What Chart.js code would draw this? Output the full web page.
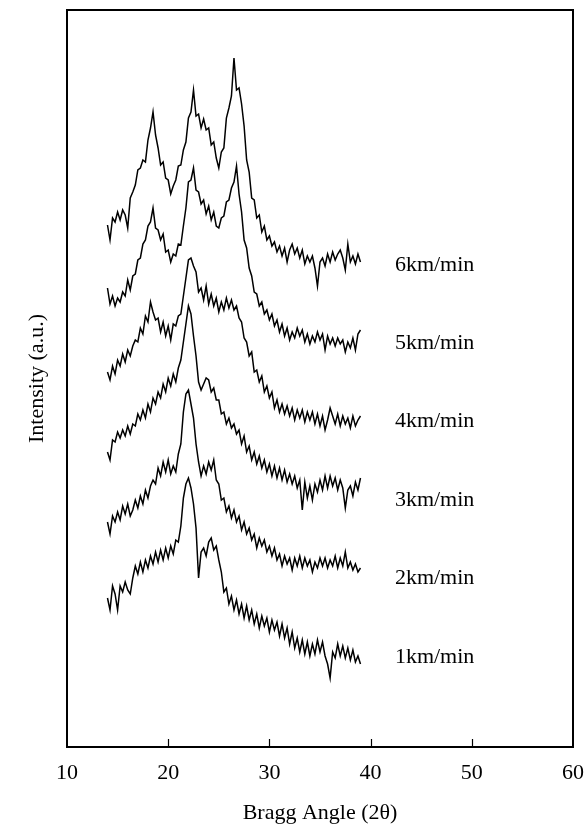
<!DOCTYPE html>
<html>
<head>
<meta charset="utf-8">
<script src="https://cdn.jsdelivr.net/npm/chart.js@4.4.1/dist/chart.umd.min.js"></script>
<style>
  html, body { margin: 0; padding: 0; background: #fff; }
  #wrap { width: 587px; height: 829px; }
</style>
</head>
<body>
<div id="wrap"><canvas id="c" width="587" height="829"></canvas></div>
<script>
// Bragg angle (2θ) sample positions
const angles = [
  14.0,14.25,14.5,14.75,15.0,15.25,15.5,15.75,16.0,16.25,
  16.5,16.75,17.0,17.25,17.5,17.75,18.0,18.25,18.5,18.75,
  19.0,19.25,19.5,19.75,20.0,20.25,20.5,20.75,21.0,21.25,
  21.5,21.75,22.0,22.25,22.5,22.75,23.0,23.25,23.5,23.75,
  24.0,24.25,24.5,24.75,25.0,25.25,25.5,25.75,26.0,26.25,
  26.5,26.75,27.0,27.25,27.5,27.75,28.0,28.25,28.5,28.75,
  29.0,29.25,29.5,29.75,30.0,30.25,30.5,30.75,31.0,31.25,
  31.5,31.75,32.0,32.25,32.5,32.75,33.0,33.25,33.5,33.75,
  34.0,34.25,34.5,34.75,35.0,35.25,35.5,35.75,36.0,36.25,
  36.5,36.75,37.0,37.25,37.5,37.75,38.0,38.25,38.5,38.75,
  39.0
];

// Intensity (a.u., offset stacked) for each spinning speed
const speed6 = [
  522,507,529,525,535,527,537,532,519,549,
  555,562,577,579,587,585,607,619,635,612,
  599,582,585,569,567,553,561,567,581,582,
  597,605,629,635,657,631,633,619,628,617,
  619,602,605,589,579,595,599,629,639,651,
  689,657,659,643,621,587,575,549,547,529,
  532,515,521,507,511,501,505,495,501,491,
  499,485,497,503,493,499,489,497,483,491,
  485,491,479,461,485,489,481,493,485,495,
  487,493,497,489,477,503,485,491,483,493,
  485
];
const speed5 = [
  459,443,451,441,449,445,455,451,467,457,
  471,473,487,489,503,507,521,525,539,519,
  517,507,513,495,497,485,493,491,503,502,
  521,539,565,567,579,557,555,543,547,533,
  541,527,535,521,519,529,531,545,547,559,
  565,581,553,535,507,499,479,471,455,453,
  441,445,433,437,427,433,421,427,415,423,
  411,419,407,415,409,419,411,417,405,413,
  403,411,405,415,407,413,397,411,403,409,
  401,409,403,407,395,405,399,409,397,413,
  417
];
const speed4 = [
  375,367,381,373,387,381,393,385,397,391,
  401,407,405,419,413,431,425,445,435,427,
  429,415,425,411,421,407,423,421,431,433,
  451,469,487,489,481,475,455,459,447,461,
  443,453,441,449,435,445,437,449,439,447,
  437,441,429,425,409,405,391,395,375,377,
  365,371,355,361,349,355,339,347,335,343,
  333,341,331,339,327,337,329,337,325,335,
  327,335,323,333,321,331,317,327,339,331,
  323,333,321,331,323,329,319,331,321,327,
  331
];
const speed3 = [
  295,287,307,305,315,309,317,311,321,313,
  323,321,333,327,337,329,343,335,349,343,
  355,349,363,355,369,361,373,365,379,387,
  405,423,441,433,411,391,365,357,363,369,
  367,355,359,347,347,333,335,323,329,319,
  323,313,317,303,311,295,301,287,295,283,
  291,279,287,275,283,271,281,269,279,267,
  277,265,273,263,271,259,267,237,265,249,
  261,247,263,255,267,257,271,259,271,261,
  269,257,267,259,239,257,261,251,265,257,
  269
];
const speed2 = [
  225,213,231,225,235,227,241,233,243,231,
  237,247,239,251,243,257,249,261,267,263,
  279,271,285,275,287,273,281,275,293,303,
  335,353,357,343,329,303,285,271,281,273,
  285,277,287,267,263,247,249,235,241,229,
  237,225,231,217,225,213,219,207,213,199,
  209,201,207,195,201,191,199,187,193,181,
  191,183,189,177,189,181,191,179,189,181,
  187,175,185,179,189,181,189,179,187,181,
  191,179,189,181,195,179,185,177,183,175,
  179
];
const speed1 = [
  149,137,161,153,137,161,155,165,157,153,
  169,181,173,185,175,187,179,191,183,195,
  185,197,187,199,189,201,193,207,205,221,
  249,263,269,259,243,219,169,195,199,191,
  205,209,197,201,187,175,155,159,143,151,
  137,147,133,143,129,141,127,137,123,133,
  119,131,121,129,115,127,117,125,111,123,
  109,119,103,115,99,109,95,107,93,105,
  91,103,93,107,95,105,91,83,69,95,
  89,103,91,101,89,99,87,97,85,91,
  83
];

const seriesLabels = ['6km/min','5km/min','4km/min','3km/min','2km/min','1km/min'];
const seriesValues = [speed6, speed5, speed4, speed3, speed2, speed1];
// intensity level at which each curve's label is written
const labelLevels = [482, 404, 326, 247, 169, 90];
const xTicks = [10, 20, 30, 40, 50, 60];

const FONT = 'Liberation Serif, Times New Roman, serif';

const datasets = seriesValues.map((vals, k) => ({
  label: seriesLabels[k],
  data: angles.map((a, i) => ({ x: a, y: vals[i] })),
  borderColor: '#000',
  borderWidth: 1.5,
  pointRadius: 0,
  tension: 0,
  fill: false
}));

const framePlugin = {
  id: 'frame',
  afterDraw(chart) {
    const { ctx, chartArea: a, scales } = chart;
    ctx.save();
    ctx.strokeStyle = '#000';
    ctx.lineWidth = 2;
    ctx.strokeRect(a.left, a.top, a.right - a.left, a.bottom - a.top);
    // inward tick marks on the bottom axis
    ctx.lineWidth = 1.2;
    scales.x.ticks.forEach(t => {
      if (t.value === 10 || t.value === 60) return;
      const px = Math.round(scales.x.getPixelForValue(t.value)) + 0.5;
      ctx.beginPath();
      ctx.moveTo(px, a.bottom);
      ctx.lineTo(px, a.bottom - 8);
      ctx.stroke();
    });
    // curve labels
    ctx.fillStyle = '#000';
    ctx.font = '22px ' + FONT;
    ctx.textAlign = 'left';
    ctx.textBaseline = 'middle';
    const lx = scales.x.getPixelForValue(42.4);
    seriesLabels.forEach((s, k) => {
      ctx.fillText(s, lx, scales.y.getPixelForValue(labelLevels[k]));
    });
    ctx.restore();
  }
};

new Chart(document.getElementById('c'), {
  type: 'line',
  data: { datasets },
  options: {
    responsive: false,
    animation: false,
    devicePixelRatio: 1,
    layout: { padding: { left: 0, right: 14, top: 10, bottom: 0 } },
    plugins: { legend: { display: false }, tooltip: { enabled: false } },
    scales: {
      x: {
        type: 'linear',
        min: 10, max: 60,
        afterBuildTicks(scale) { scale.ticks = xTicks.map(v => ({ value: v })); },
        afterFit(scale) { scale.height = 82; scale.paddingLeft = 0; scale.paddingRight = 0; },
        grid: { display: false, drawTicks: false },
        border: { display: false },
        ticks: { color: '#000', font: { family: FONT, size: 22 }, padding: 13, maxRotation: 0 },
        title: {
          display: true, text: 'Bragg Angle (2θ)', color: '#000',
          font: { family: FONT, size: 22 }, padding: { top: 0, bottom: 3 }
        }
      },
      y: {
        type: 'linear',
        min: 0, max: 737,
        afterFit(scale) { scale.width = 67; scale.paddingTop = 0; scale.paddingBottom = 0; },
        grid: { display: false, drawTicks: false },
        border: { display: false },
        ticks: { display: false },
        title: {
          display: true, text: 'Intensity (a.u.)', color: '#000',
          font: { family: FONT, size: 22 }, padding: { top: 24, bottom: 0 }
        }
      }
    }
  },
  plugins: [framePlugin]
});
</script>
</body>
</html>
